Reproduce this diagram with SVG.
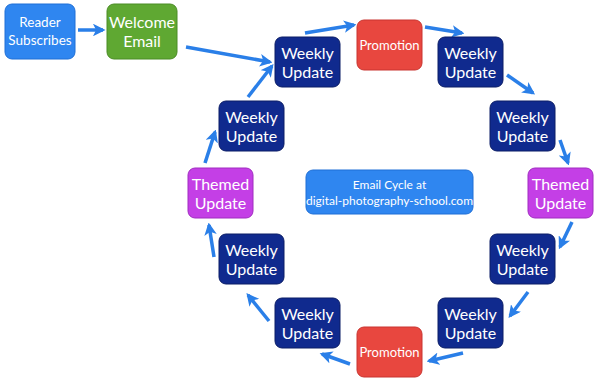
<svg xmlns="http://www.w3.org/2000/svg" width="600" height="384" viewBox="0 0 600 384">
<defs>
<style>
.n rect{rx:7;ry:7;stroke-width:1}
.wk rect{fill:#102a8e;stroke:#0a1c66}
.pr rect{fill:#e8473f;stroke:#c93530}
.th rect{fill:#c43fe6;stroke:#a02cc0}
.bl rect{fill:#2f86f0;stroke:#1f6fd6}
.gr rect{fill:#5fa832;stroke:#4a8c25}
text{font-family:Lato,"Open Sans","DejaVu Sans",sans-serif;fill:#fff;text-anchor:middle}
.t{font-size:16px}
.s{font-size:13.5px}
.p{font-size:13px}
.c{font-size:12px}
#conn line{stroke:#2a7fe8;stroke-width:3.5;marker-end:url(#ah)}
</style>
<marker id="ah" viewBox="0 0 10 10" refX="8" refY="5" markerWidth="3.6" markerHeight="3.6" orient="auto" markerUnits="strokeWidth">
<path d="M0,0 L10,5 L0,10 L2.5,5 Z" fill="#2a7fe8"/>
</marker>
</defs>
<rect width="600" height="384" fill="#fff"/>
<g id="conn">
<line x1="78" y1="30" x2="103" y2="30"/>
<line x1="186" y1="47" x2="270" y2="62"/>
<line x1="305" y1="33" x2="354" y2="25"/>
<line x1="425" y1="27" x2="462" y2="33"/>
<line x1="507" y1="75" x2="533" y2="93"/>
<line x1="560" y1="140" x2="568" y2="163"/>
<line x1="572" y1="222" x2="560" y2="247"/>
<line x1="528" y1="292" x2="510" y2="316"/>
<line x1="463" y1="353" x2="429" y2="361"/>
<line x1="350" y1="364" x2="322" y2="354"/>
<line x1="269" y1="321" x2="248" y2="295"/>
<line x1="214" y1="257" x2="209" y2="225"/>
<line x1="205" y1="163" x2="215" y2="132"/>
<line x1="248" y1="97" x2="272" y2="66"/>
</g>
<g id="reader" class="n bl"><rect x="5" y="4" width="70" height="55"/><text class="s" x="40" y="27">Reader</text><text class="s" x="40" y="45">Subscribes</text></g>
<g id="welcome" class="n gr"><rect x="107" y="4" width="70" height="55"/><text class="t" x="142" y="28">Welcome</text><text class="t" x="142" y="47">Email</text></g>
<g id="w1" class="n wk"><rect x="275" y="37" width="65" height="50"/><text class="t" x="307.5" y="59">Weekly</text><text class="t" x="307.5" y="78">Update</text></g>
<g id="promo1" class="n pr"><rect x="357" y="20" width="65" height="50"/><text class="p" x="389.5" y="50">Promotion</text></g>
<g id="w2" class="n wk"><rect x="438" y="37" width="65" height="50"/><text class="t" x="470.5" y="59">Weekly</text><text class="t" x="470.5" y="78">Update</text></g>
<g id="w3" class="n wk"><rect x="490" y="101" width="65" height="50"/><text class="t" x="522.5" y="123">Weekly</text><text class="t" x="522.5" y="142">Update</text></g>
<g id="themed1" class="n th"><rect x="528" y="168" width="65" height="50"/><text class="t" x="560.5" y="190">Themed</text><text class="t" x="560.5" y="209">Update</text></g>
<g id="w4" class="n wk"><rect x="490" y="234" width="65" height="50"/><text class="t" x="522.5" y="256">Weekly</text><text class="t" x="522.5" y="275">Update</text></g>
<g id="w5" class="n wk"><rect x="438" y="298" width="65" height="50"/><text class="t" x="470.5" y="320">Weekly</text><text class="t" x="470.5" y="339">Update</text></g>
<g id="promo2" class="n pr"><rect x="357" y="327" width="65" height="50"/><text class="p" x="389.5" y="357">Promotion</text></g>
<g id="w6" class="n wk"><rect x="275" y="298" width="65" height="50"/><text class="t" x="307.5" y="320">Weekly</text><text class="t" x="307.5" y="339">Update</text></g>
<g id="w7" class="n wk"><rect x="219" y="234" width="65" height="50"/><text class="t" x="251.5" y="256">Weekly</text><text class="t" x="251.5" y="275">Update</text></g>
<g id="themed2" class="n th"><rect x="188" y="168" width="65" height="50"/><text class="t" x="220.5" y="190">Themed</text><text class="t" x="220.5" y="209">Update</text></g>
<g id="w8" class="n wk"><rect x="219" y="101" width="65" height="50"/><text class="t" x="251.5" y="123">Weekly</text><text class="t" x="251.5" y="142">Update</text></g>
<g id="cycle" class="n bl"><rect x="306" y="170" width="167" height="44"/><text class="c" x="389.5" y="189">Email Cycle at</text><text class="c" x="389.5" y="205">digital-photography-school.com</text></g>
</svg>
